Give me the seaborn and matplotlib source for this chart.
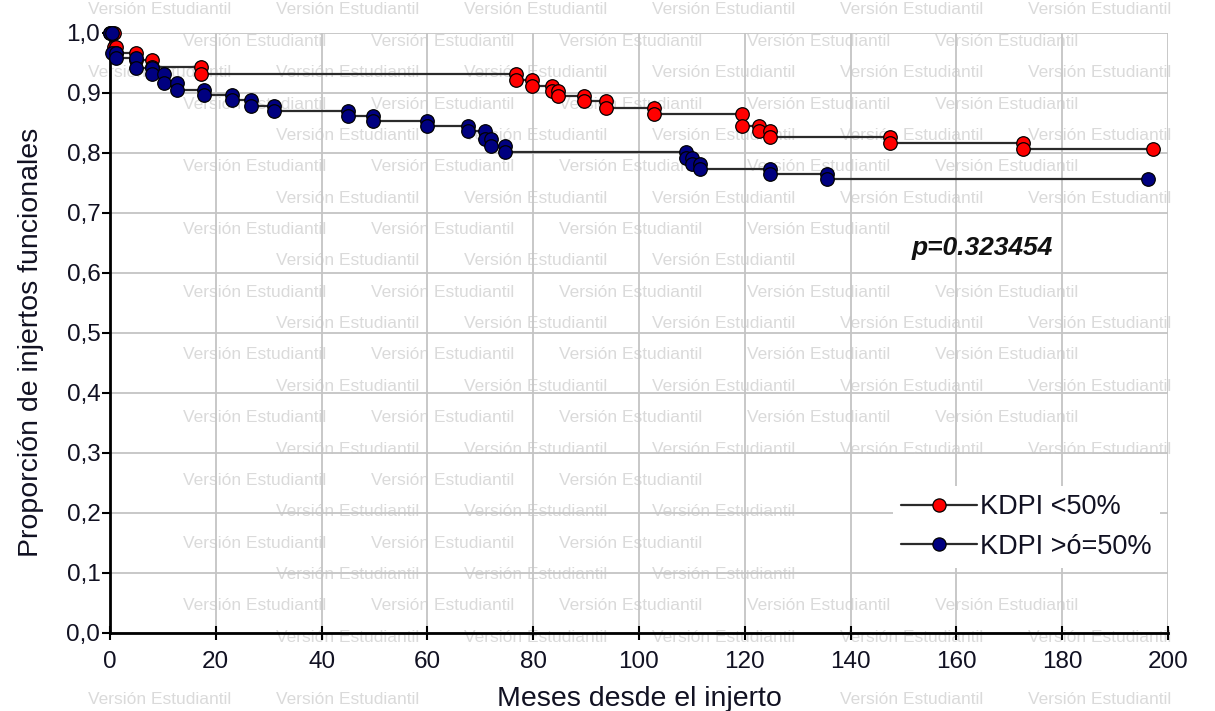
import matplotlib
matplotlib.use("Agg")
import matplotlib.pyplot as plt
from matplotlib.lines import Line2D
import seaborn as sns
import pandas as pd

# ---------------- data ----------------
red_label = "KDPI <50%"
blue_label = "KDPI >ó=50%"

red_times = [0.8, 1.2, 5.0, 7.9, 17.2, 76.7, 79.7, 83.6, 84.7, 89.6, 93.7,
             102.8, 119.5, 122.6, 124.8, 147.5, 172.6]
red_surv = [0.977, 0.966, 0.955, 0.943, 0.931, 0.921, 0.912, 0.904, 0.895,
            0.886, 0.875, 0.865, 0.845, 0.836, 0.827, 0.816, 0.806]
red_last = 197.2

blue_times = [0.3, 1.1, 5.0, 7.9, 10.2, 12.7, 17.7, 23.0, 26.7, 31.0, 45.0,
              49.8, 59.9, 67.6, 70.8, 72.0, 74.7, 108.8, 110.0, 111.6, 124.8,
              135.5]
blue_surv = [0.967, 0.959, 0.941, 0.931, 0.916, 0.905, 0.897, 0.888, 0.879,
             0.870, 0.862, 0.854, 0.845, 0.837, 0.823, 0.811, 0.801, 0.791,
             0.782, 0.773, 0.765, 0.757]
blue_last = 196.2

x_ticks = [0, 20, 40, 60, 80, 100, 120, 140, 160, 180, 200]
y_ticks = [0.0, 0.1, 0.2, 0.3, 0.4, 0.5, 0.6, 0.7, 0.8, 0.9, 1.0]
y_tick_labels = ["0,0", "0,1", "0,2", "0,3", "0,4", "0,5", "0,6", "0,7",
                 "0,8", "0,9", "1,0"]
p_text = "p=0.323454"
x_title = "Meses desde el injerto"
y_title = "Proporción de injertos funcionales"
watermark = "Versión Estudiantil"

# ---------------- style ----------------
sns.set_theme(style="white")
plt.rcParams["font.family"] = ["Liberation Sans", "DejaVu Sans"]

W, H = 1215, 711
AX_L, AX_R, AX_T, AX_B = 110, 1168, 33, 633
fig = plt.figure(figsize=(W / 100, H / 100), dpi=100)
fig.patch.set_facecolor("white")

LEG_X0, LEG_Y0 = 893, 486

# keep-out rectangles (pixels, top-left origin) for the faint watermark
keep_out = [
    (LEG_X0, LEG_Y0, 1190, 570),      # legend
    (905, 230, 1060, 264),            # p-value
    (490, 676, 790, 711),             # x title
    (12, 120, 48, 565),               # y title
]
for v in x_ticks:
    cx = AX_L + (AX_R - AX_L) * v / 200
    keep_out.append((cx - 24, 646, cx + 24, 672))
for v in y_ticks:
    cy = AX_B - (AX_B - AX_T) * v
    keep_out.append((62, cy - 12, 102, cy + 12))


def blocked(x0, y0, x1, y1):
    for a0, b0, a1, b1 in keep_out:
        if x0 < a1 and x1 > a0 and y0 < b1 and y1 > b0:
            return True
    return False


WM_W = 150
for k in range(23):
    yy = 10 + 31.36 * k
    x0 = 88 if k % 2 == 0 else -5
    for j in range(-1, 8):
        xx = x0 + 188 * j
        if xx < 0 or xx + WM_W > W:
            continue
        if blocked(xx, yy - 8, xx + WM_W, yy + 8):
            continue
        fig.text(xx / W, 1 - yy / H, watermark, fontsize=12.5,
                 color="#dadada", ha="left", va="center", zorder=-5)

ax = fig.add_axes([AX_L / W, (H - AX_B) / H, (AX_R - AX_L) / W,
                   (AX_B - AX_T) / H])
ax.patch.set_alpha(0)


def step_points(times, surv, last):
    xs, ys = [0.0], [1.0]
    prev = 1.0
    for t, s in zip(times, surv):
        xs += [t, t]
        ys += [prev, s]
        prev = s
    xs.append(last)
    ys.append(prev)
    return pd.DataFrame({"t": xs, "s": ys})


series = [
    (red_times, red_surv, red_last, "#ff0000"),
    (blue_times, blue_surv, blue_last, "#000080"),
]
for times, surv, last, col in series:
    df = step_points(times, surv, last)
    sns.lineplot(data=df, x="t", y="s", sort=False, estimator=None,
                 color="#2b2b2b", linewidth=1.6, ax=ax, legend=False,
                 clip_on=False, zorder=3)
    sns.scatterplot(data=df, x="t", y="s", color=col, edgecolor="black",
                    linewidth=0.9, s=95, marker="o", ax=ax, legend=False,
                    clip_on=False, zorder=4)

ax.set_xlim(0, 200)
ax.set_ylim(0, 1)
ax.set_xticks(x_ticks)
ax.set_xticklabels([str(v) for v in x_ticks])
ax.set_yticks(y_ticks)
ax.set_yticklabels(y_tick_labels)

ax.grid(True, color="#c4c4c4", linewidth=1.3)
ax.set_axisbelow(True)
for side in ["top", "right"]:
    ax.spines[side].set_visible(False)
for side in ["left", "bottom"]:
    ax.spines[side].set_color("black")
    ax.spines[side].set_linewidth(2)
    ax.spines[side].set_zorder(2)

ax.tick_params(axis="x", which="major", direction="inout", length=10,
               width=1.5, color="black", pad=8, labelsize=17.5,
               labelcolor="#111122")
ax.tick_params(axis="y", which="major", direction="out", length=6,
               width=1.5, color="black", pad=1, labelsize=17.5,
               labelcolor="#111122")
ax.tick_params(left=True, bottom=True)

ax.set_xlabel(x_title, fontsize=20.5, color="#111122")
ax.set_ylabel(y_title, fontsize=20.5, color="#111122")
ax.xaxis.set_label_coords(0.5, -0.088)
ax.yaxis.set_label_coords(-0.062, 0.485)

ax.text(151.5, 0.642, p_text, fontsize=19, fontweight="bold",
        fontstyle="italic", color="#111111", ha="left", va="center")

handles = [
    Line2D([0], [0], color="#2b2b2b", lw=1.6, marker="o",
           markerfacecolor="#ff0000", markeredgecolor="black",
           markeredgewidth=0.9, markersize=9.5),
    Line2D([0], [0], color="#2b2b2b", lw=1.6, marker="o",
           markerfacecolor="#000080", markeredgecolor="black",
           markeredgewidth=0.9, markersize=9.5),
]
leg = ax.legend(handles, [red_label, blue_label], loc="upper left",
                bbox_to_anchor=(LEG_X0 / W, 1 - LEG_Y0 / H),
                bbox_transform=fig.transFigure, fontsize=19.5,
                frameon=True, facecolor="white", edgecolor="none",
                framealpha=1, fancybox=False, handlelength=2.8,
                handletextpad=0.12, labelspacing=0.5, borderpad=0.3,
                borderaxespad=0)
for t in leg.get_texts():
    t.set_color("#111122")
leg.set_zorder(6)

fig.savefig("out.png", dpi=100, facecolor="white")
